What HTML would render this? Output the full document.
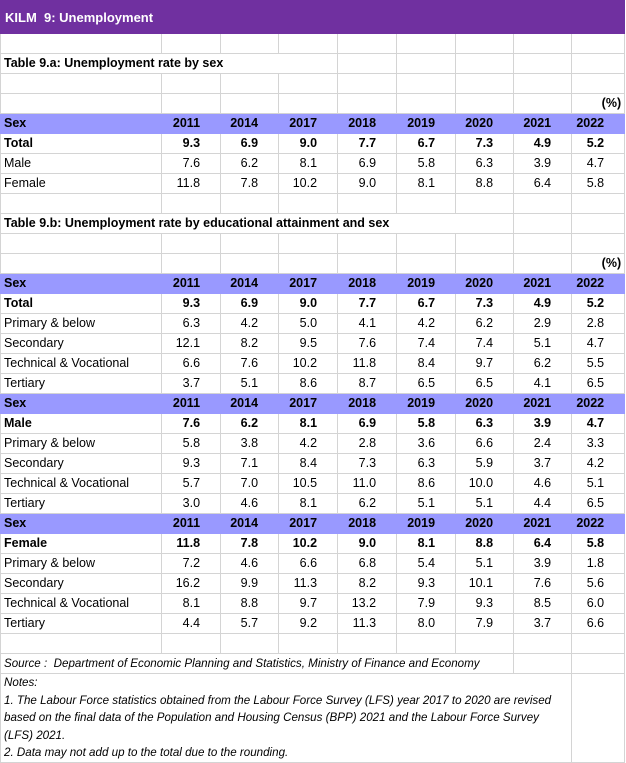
<!DOCTYPE html>
<html><head><meta charset="utf-8"><style>
body{margin:0;background:#fff;width:626px;height:763px;overflow:hidden}
table{border-collapse:collapse;table-layout:fixed;position:absolute;left:0;top:0;font-family:"Liberation Sans",sans-serif;font-size:12.5px;color:#000}
td{border:1px solid #d4d4d4;height:19px;padding:0 3px;white-space:nowrap;overflow:visible;text-align:right;padding-right:20px;line-height:19px}
td.l{text-align:left;padding-left:3px;padding-right:0}
td.p{padding-right:3px}
tr.h td{background:#9999ff;font-weight:bold;border-color:#9999ff;border-top:1px solid #d4d4d4}
tr.b td{font-weight:bold}
tr.t td{background:#7030a0;color:#fff;font-weight:bold;font-size:13px;height:32px;border-color:#7030a0;text-align:left;padding-left:4px}
td.n{font-style:italic;font-size:11.6px;line-height:17.5px;vertical-align:top;text-align:left;padding-left:3px;white-space:nowrap}
td.s{font-style:italic;font-size:11.6px;text-align:left;padding-left:3px}
.tt{font-weight:bold;text-align:left;padding-left:3px}
</style></head><body>
<table>
<colgroup><col style="width:161px"><col style="width:59px"><col style="width:58px"><col style="width:59px"><col style="width:59px"><col style="width:59px"><col style="width:58px"><col style="width:58px"><col style="width:53px"></colgroup>
<tr class="t"><td colspan="9">KILM&nbsp; 9: Unemployment</td></tr>
<tr><td></td><td></td><td></td><td></td><td></td><td></td><td></td><td></td><td></td></tr>
<tr><td colspan="4" class="tt">Table 9.a: Unemployment rate by sex</td><td></td><td></td><td></td><td></td><td></td></tr>
<tr><td></td><td></td><td></td><td></td><td></td><td></td><td></td><td></td><td></td></tr>
<tr><td></td><td></td><td></td><td></td><td></td><td></td><td></td><td></td><td class="p"><b>(%)</b></td></tr>
<tr class="h"><td class="l">Sex</td><td>2011</td><td>2014</td><td>2017</td><td>2018</td><td>2019</td><td>2020</td><td>2021</td><td>2022</td></tr>
<tr class="b"><td class="l">Total</td><td>9.3</td><td>6.9</td><td>9.0</td><td>7.7</td><td>6.7</td><td>7.3</td><td>4.9</td><td>5.2</td></tr>
<tr><td class="l">Male</td><td>7.6</td><td>6.2</td><td>8.1</td><td>6.9</td><td>5.8</td><td>6.3</td><td>3.9</td><td>4.7</td></tr>
<tr><td class="l">Female</td><td>11.8</td><td>7.8</td><td>10.2</td><td>9.0</td><td>8.1</td><td>8.8</td><td>6.4</td><td>5.8</td></tr>
<tr><td></td><td></td><td></td><td></td><td></td><td></td><td></td><td></td><td></td></tr>
<tr><td colspan="7" class="tt">Table 9.b: Unemployment rate by educational attainment and sex</td><td></td><td></td></tr>
<tr><td></td><td></td><td></td><td></td><td></td><td></td><td></td><td></td><td></td></tr>
<tr><td></td><td></td><td></td><td></td><td></td><td></td><td></td><td></td><td class="p"><b>(%)</b></td></tr>
<tr class="h"><td class="l">Sex</td><td>2011</td><td>2014</td><td>2017</td><td>2018</td><td>2019</td><td>2020</td><td>2021</td><td>2022</td></tr>
<tr class="b"><td class="l">Total</td><td>9.3</td><td>6.9</td><td>9.0</td><td>7.7</td><td>6.7</td><td>7.3</td><td>4.9</td><td>5.2</td></tr>
<tr><td class="l">Primary &amp; below</td><td>6.3</td><td>4.2</td><td>5.0</td><td>4.1</td><td>4.2</td><td>6.2</td><td>2.9</td><td>2.8</td></tr>
<tr><td class="l">Secondary</td><td>12.1</td><td>8.2</td><td>9.5</td><td>7.6</td><td>7.4</td><td>7.4</td><td>5.1</td><td>4.7</td></tr>
<tr><td class="l">Technical &amp; Vocational</td><td>6.6</td><td>7.6</td><td>10.2</td><td>11.8</td><td>8.4</td><td>9.7</td><td>6.2</td><td>5.5</td></tr>
<tr><td class="l">Tertiary</td><td>3.7</td><td>5.1</td><td>8.6</td><td>8.7</td><td>6.5</td><td>6.5</td><td>4.1</td><td>6.5</td></tr>
<tr class="h"><td class="l">Sex</td><td>2011</td><td>2014</td><td>2017</td><td>2018</td><td>2019</td><td>2020</td><td>2021</td><td>2022</td></tr>
<tr class="b"><td class="l">Male</td><td>7.6</td><td>6.2</td><td>8.1</td><td>6.9</td><td>5.8</td><td>6.3</td><td>3.9</td><td>4.7</td></tr>
<tr><td class="l">Primary &amp; below</td><td>5.8</td><td>3.8</td><td>4.2</td><td>2.8</td><td>3.6</td><td>6.6</td><td>2.4</td><td>3.3</td></tr>
<tr><td class="l">Secondary</td><td>9.3</td><td>7.1</td><td>8.4</td><td>7.3</td><td>6.3</td><td>5.9</td><td>3.7</td><td>4.2</td></tr>
<tr><td class="l">Technical &amp; Vocational</td><td>5.7</td><td>7.0</td><td>10.5</td><td>11.0</td><td>8.6</td><td>10.0</td><td>4.6</td><td>5.1</td></tr>
<tr><td class="l">Tertiary</td><td>3.0</td><td>4.6</td><td>8.1</td><td>6.2</td><td>5.1</td><td>5.1</td><td>4.4</td><td>6.5</td></tr>
<tr class="h"><td class="l">Sex</td><td>2011</td><td>2014</td><td>2017</td><td>2018</td><td>2019</td><td>2020</td><td>2021</td><td>2022</td></tr>
<tr class="b"><td class="l">Female</td><td>11.8</td><td>7.8</td><td>10.2</td><td>9.0</td><td>8.1</td><td>8.8</td><td>6.4</td><td>5.8</td></tr>
<tr><td class="l">Primary &amp; below</td><td>7.2</td><td>4.6</td><td>6.6</td><td>6.8</td><td>5.4</td><td>5.1</td><td>3.9</td><td>1.8</td></tr>
<tr><td class="l">Secondary</td><td>16.2</td><td>9.9</td><td>11.3</td><td>8.2</td><td>9.3</td><td>10.1</td><td>7.6</td><td>5.6</td></tr>
<tr><td class="l">Technical &amp; Vocational</td><td>8.1</td><td>8.8</td><td>9.7</td><td>13.2</td><td>7.9</td><td>9.3</td><td>8.5</td><td>6.0</td></tr>
<tr><td class="l">Tertiary</td><td>4.4</td><td>5.7</td><td>9.2</td><td>11.3</td><td>8.0</td><td>7.9</td><td>3.7</td><td>6.6</td></tr>
<tr><td></td><td></td><td></td><td></td><td></td><td></td><td></td><td></td><td></td></tr>
<tr><td colspan="7" class="s">Source :&nbsp; Department of Economic Planning and Statistics, Ministry of Finance and Economy</td><td></td><td></td></tr>
<tr><td colspan="8" class="n" style="height:88px">Notes:<br>1. The Labour Force statistics obtained from the Labour Force Survey (LFS) year 2017 to 2020 are revised<br>based on the final data of the Population and Housing Census (BPP) 2021 and the Labour Force Survey<br>(LFS) 2021.<br>2. Data may not add up to the total due to the rounding.</td><td></td></tr>
</table>
</body></html>
